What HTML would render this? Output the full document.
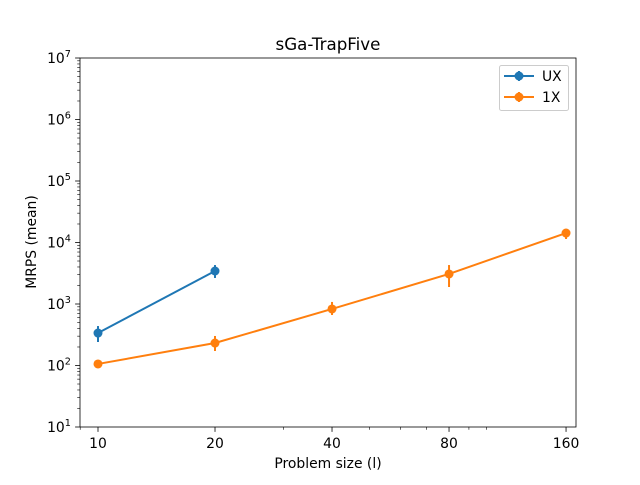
<!DOCTYPE html>
<html><head><meta charset="utf-8"><style>
body{margin:0;background:#fff}
text{font-family:"DejaVu Sans","Liberation Sans",sans-serif;fill:#000}
</style></head><body>
<svg id="chart" width="640" height="480" xmlns="http://www.w3.org/2000/svg"></svg>
<script>
const xCats=[10,20,40,80,160];
const xTickLabels=["10","20","40","80","160"];
const ux=[337,3440];
const uxLo=[241,2650];
const uxHi=[438,4300];
const onex=[106,232,830,3080,14250];
const onexLo=[97,172,662,1890,11400];
const onexHi=[116,302,1080,4300,16600];
const yTickExp=[1,2,3,4,5,6,7];
const xMinor=[9,30,50,60,70,90,100,200];

const L=80,R=576,T=58,B=427;
const X=v=>98+(Math.log10(v)-1)*388.7;
const Y=v=>427-(Math.log10(v)-1)*61.5;
const svg=document.getElementById('chart');
const NS='http://www.w3.org/2000/svg';
function mk(tag,attrs,parent){const e=document.createElementNS(NS,tag);for(const k in attrs)e.setAttribute(k,attrs[k]);(parent||svg).appendChild(e);return e;}

let t=mk('text',{x:328,y:50,'text-anchor':'middle','font-size':16.7});t.textContent='sGa-TrapFive';



xCats.forEach((c,i)=>{const x=X(c);
 const l=mk('line',{x1:x,x2:x,y1:B,y2:B+4.9,stroke:'#000','stroke-width':0.8});
 
 
 const tx=mk('text',{x:x,y:B+21,'text-anchor':'middle','font-size':13.9});tx.textContent=xTickLabels[i];
 
 
});
xMinor.forEach(m=>{const x=X(m);if(x<L||x>R)return;
 const l=mk('line',{x1:x,x2:x,y1:B,y2:B+2.8,stroke:'#000','stroke-width':0.6});
 
 
});
yTickExp.forEach(e=>{const y=Y(Math.pow(10,e));
 const l=mk('line',{x1:L-4.9,x2:L,y1:y,y2:y,stroke:'#000','stroke-width':0.8});
 
 
 const tx=mk('text',{x:L-21,y:y+5,'text-anchor':'middle','font-size':13.9});tx.textContent='10';
 
 
 const sp=mk('tspan',{dy:-6,'font-size':9.7},tx);sp.textContent=e;
 if(e<7){for(let k=2;k<=9;k++){const yy=Y(k*Math.pow(10,e));
  const m=mk('line',{x1:L-2.8,x2:L,y1:yy,y2:yy,stroke:'#000','stroke-width':0.6});
  
  }}
});
t=mk('text',{x:328,y:468,'text-anchor':'middle','font-size':13.9});t.textContent='Problem size (l)';


t=mk('text',{x:36,y:242,'text-anchor':'middle','font-size':13.9,transform:'rotate(-90 36 242)'});t.textContent='MRPS (mean)';



function series(vals,lo,hi,color,name){
 const g=mk('g',{});
 
 
 const pts=vals.map((v,i)=>X(xCats[i])+','+Y(v)).join(' ');
 mk('polyline',{points:pts,fill:'none',stroke:color,'stroke-width':2},g);
 vals.forEach((v,i)=>{const x=X(xCats[i]);
  const e=mk('line',{x1:x,x2:x,y1:Y(lo[i]),y2:Y(hi[i]),stroke:color,'stroke-width':2},g);
  
  
  const c=mk('circle',{cx:x,cy:Y(v),r:4.5,fill:color},g);
  
  
 });
}
series(ux,uxLo,uxHi,'#1f77b4','ux');
series(onex,onexLo,onexHi,'#ff7f0e','1x');

const fr=mk('rect',{x:L,y:T,width:R-L,height:B-T,fill:'none',stroke:'#000','stroke-width':0.8});



const lg=mk('g',{});


mk('rect',{x:499.5,y:65.5,width:69,height:45,rx:2,fill:'#fff',stroke:'#ccc','stroke-width':1},lg);
[['UX','#1f77b4',76],['1X','#ff7f0e',97]].forEach(([n,c,y])=>{
 const e=mk('g',{},lg);
 
 
 mk('line',{x1:504,x2:534,y1:y,y2:y,stroke:c,'stroke-width':2},e);
 mk('line',{x1:519,x2:519,y1:y-5,y2:y+5,stroke:c,'stroke-width':2},e);
 mk('circle',{cx:519,cy:y,r:4.5,fill:c},e);
 const tx=mk('text',{x:542,y:y+5,'font-size':13.9},e);tx.textContent=n;
});
</script>
</body></html>
